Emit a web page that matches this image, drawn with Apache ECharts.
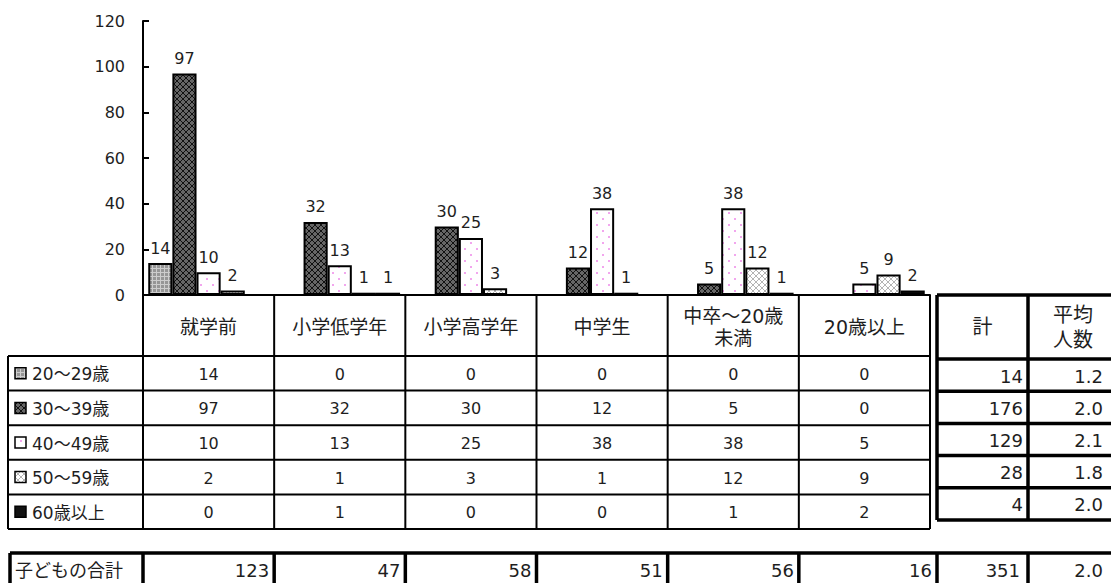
<!DOCTYPE html>
<html>
<head>
<meta charset="utf-8">
<script src="https://cdn.jsdelivr.net/npm/echarts@6/dist/echarts.min.js"></script>
<style>
  html, body { margin: 0; padding: 0; background: #fff; }
  #chart { width: 1111px; height: 583px; }
</style>
</head>
<body>
<div id="chart"></div>
<script>
// Children's stage by parent's age group
const categories = ['就学前', '小学低学年', '小学高学年', '中学生', '中卒〜20歳\n未満', '20歳以上'];
const ageGroups = ['20〜29歳', '30〜39歳', '40〜49歳', '50〜59歳', '60歳以上'];

const age20s    = [14, 0, 0, 0, 0, 0];
const age30s    = [97, 32, 30, 12, 5, 0];
const age40s    = [10, 13, 25, 38, 38, 5];
const age50s    = [2, 1, 3, 1, 12, 9];
const age60plus = [0, 1, 0, 0, 1, 2];

const rowAverages = ['1.2', '2.0', '2.1', '1.8', '2.0'];
const overallAverage = '2.0';

const yTicks = { min: 0, max: 120, step: 20 };

const footLabel = '子どもの合計';
const sumLabel = '計';
const avgLabel = '平均\n人数';

const seriesData = [age20s, age30s, age40s, age50s, age60plus];
const rowTotals = seriesData.map(arr => arr.reduce((a, b) => a + b, 0));
const childTotals = categories.map((_, i) => seriesData.reduce((s, arr) => s + arr[i], 0));
const grandTotal = rowTotals.reduce((a, b) => a + b, 0);

// ---- hatch fills -------------------------------------------------------
function tile(size, draw) {
  const c = document.createElement('canvas');
  c.width = c.height = size;
  const g = c.getContext('2d');
  draw(g, size);
  return { image: c, repeat: 'repeat', imageWidth: size, imageHeight: size };
}
const px = (g, x, y, col) => { g.fillStyle = col; g.fillRect(x, y, 1, 1); };

const fills = [
  // light grey grid
  tile(4, (g, n) => {
    g.fillStyle = '#969696'; g.fillRect(0, 0, n, n);
    g.fillStyle = '#cdcdcd'; g.fillRect(0, 0, n, 1); g.fillRect(0, 0, 1, n);
  }),
  // dark cross hatch
  tile(6, (g, n) => {
    g.fillStyle = '#666'; g.fillRect(0, 0, n, n);
    for (let i = 0; i < n; i++) { px(g, i, i, '#111'); px(g, n - 1 - i, i, '#111'); }
  }),
  // white with pink dots
  tile(12, (g, n) => {
    g.fillStyle = '#fff'; g.fillRect(0, 0, n, n);
    g.fillStyle = '#f2a6ee'; g.fillRect(2, 2, 2, 2); g.fillRect(8, 8, 2, 2);
  }),
  // white with light cross hatch
  tile(6, (g, n) => {
    g.fillStyle = '#fff'; g.fillRect(0, 0, n, n);
    for (let i = 0; i < n; i++) { px(g, i, i, '#b4b4b4'); px(g, n - 1 - i, i, '#b4b4b4'); }
  }),
  // solid black
  '#111'
];

const NUM_FONT = "'DejaVu Sans', sans-serif";
const JP_FONT = "'DejaVu Sans', 'Noto Sans CJK JP', sans-serif";
const INK = '#1e1e1e';

const chart = echarts.init(document.getElementById('chart'), null, { renderer: 'svg' });

chart.setOption({
  animation: false,
  backgroundColor: '#fff',
  grid: { left: 143, right: 181, top: 21, bottom: 288 },
  xAxis: {
    type: 'category',
    data: categories,
    axisLine: { lineStyle: { color: '#000', width: 2 } },
    axisTick: { show: false },
    axisLabel: { show: false }
  },
  yAxis: {
    type: 'value',
    min: yTicks.min, max: yTicks.max, interval: yTicks.step,
    axisLine: { show: true, lineStyle: { color: '#000', width: 2 } },
    axisTick: { show: true, inside: true, length: 6, lineStyle: { color: '#000', width: 2 } },
    axisLabel: { margin: 18, color: INK, fontFamily: NUM_FONT, fontSize: 16 },
    splitLine: { show: false }
  },
  series: ageGroups.map((name, k) => ({
    type: 'bar',
    name,
    data: seriesData[k],
    barGap: '0%',
    barCategoryGap: '8%',
    itemStyle: { color: fills[k], borderColor: '#000', borderWidth: 2 },
    label: {
      show: true,
      position: 'top',
      distance: 7,
      color: INK,
      fontFamily: NUM_FONT,
      fontSize: 16,
      formatter: p => (p.value ? String(p.value) : '')
    }
  }))
});

// ---- data table under the plot ----------------------------------------
const cx = categories.map((_, i) => chart.convertToPixel({ xAxisIndex: 0 }, i));
const step = cx[1] - cx[0];
const edges = [cx[0] - step / 2].concat(cx.map(x => x + step / 2));
const y0 = chart.convertToPixel({ yAxisIndex: 0 }, 0);

const HEAD_H = 61, ROW_H = 34.6, LABEL_LEFT = 8;
const side = { left: 937, mid: 1028, right: 1122, headH: 64, rowH: 32.2 };
const foot = { top: 553, h: 36, left: 10 };

const els = [];
const line = (x1, y1, x2, y2, w) => els.push({
  type: 'line', silent: true,
  shape: { x1, y1, x2, y2 },
  style: { stroke: '#000', lineWidth: w || 2 }
});
const text = (str, x, y, align, font, size, extra) => els.push({
  type: 'text', silent: true, x, y,
  style: Object.assign({
    text: String(str), fill: INK, textAlign: align, textVerticalAlign: 'middle',
    fontFamily: font, fontSize: size
  }, extra || {})
});

// header row with category names
const left = edges[0], right = edges[edges.length - 1];
const headBottom = y0 + HEAD_H;
const tableBottom = headBottom + ROW_H * ageGroups.length;
line(left, y0, right, y0);
edges.forEach(x => line(x, y0, x, tableBottom));
line(LABEL_LEFT, headBottom, right, headBottom);
categories.forEach((c, i) => text(c, cx[i], y0 + HEAD_H / 2 + 1, 'center', JP_FONT, 19, { lineHeight: 22 }));

// body rows, one per age group
line(LABEL_LEFT, headBottom, LABEL_LEFT, tableBottom);
ageGroups.forEach((g, k) => {
  const top = headBottom + ROW_H * k;
  const mid = top + ROW_H / 2;
  line(LABEL_LEFT, top + ROW_H, right, top + ROW_H);
  els.push({
    type: 'rect', silent: true,
    shape: { x: 15, y: mid - 5.5, width: 11, height: 11 },
    style: { fill: fills[k], stroke: '#000', lineWidth: 1.5 }
  });
  text(g, 32, mid + 1, 'left', JP_FONT, 17);
  seriesData[k].forEach((v, i) => text(v, cx[i], mid + 1, 'center', NUM_FONT, 16));
});

// totals and averages per age group
const sideBottom = y0 + side.headH + side.rowH * ageGroups.length;
line(side.left, y0, side.right, y0, 3.5);
line(side.left, y0, side.left, sideBottom, 3.5);
line(side.mid, y0, side.mid, sideBottom, 3.5);
line(side.right, y0, side.right, sideBottom, 3.5);
line(side.left, y0 + side.headH, side.right, y0 + side.headH, 3.5);
text(sumLabel, (side.left + side.mid) / 2, y0 + side.headH / 2, 'center', JP_FONT, 20);
text(avgLabel, (side.mid + side.right) / 2 - 2, y0 + side.headH / 2, 'center', JP_FONT, 20, { lineHeight: 25 });
ageGroups.forEach((g, k) => {
  const top = y0 + side.headH + side.rowH * k;
  const mid = top + side.rowH / 2;
  line(side.left, top + side.rowH, side.right, top + side.rowH, 3.5);
  text(rowTotals[k], side.mid - 5, mid + 1, 'right', NUM_FONT, 18);
  text(rowAverages[k], side.right - 19, mid + 1, 'right', NUM_FONT, 18);
});

// children total row
const fEdges = edges.slice(0, -1).concat([side.left]);
const fBottom = foot.top + foot.h;
line(foot.left, foot.top, side.right, foot.top, 3.5);
line(foot.left, fBottom, side.right, fBottom, 3.5);
[foot.left].concat(fEdges, [side.mid, side.right]).forEach(x => line(x, foot.top, x, fBottom, 3.5));
const fMid = foot.top + 17;
text(footLabel, foot.left + 5, fMid, 'left', JP_FONT, 18);
childTotals.forEach((v, i) => text(v, fEdges[i + 1] - 5, fMid, 'right', NUM_FONT, 18));
text(grandTotal, side.mid - 8, fMid, 'right', NUM_FONT, 18);
text(overallAverage, side.right - 19, fMid, 'right', NUM_FONT, 18);

chart.setOption({ graphic: { elements: els } });
</script>
</body>
</html>
